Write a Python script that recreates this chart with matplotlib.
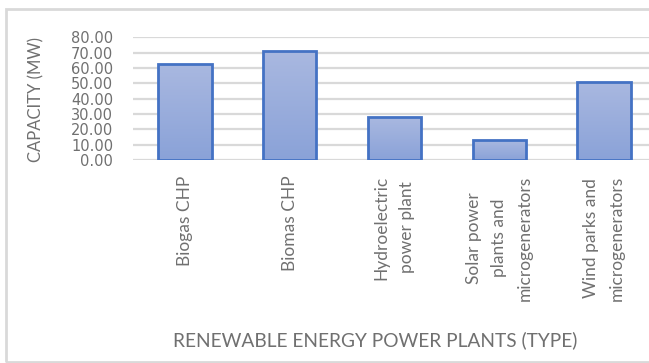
import matplotlib
matplotlib.use("Agg")
import matplotlib.pyplot as plt
import numpy as np
from matplotlib.patches import Rectangle
from matplotlib.colors import LinearSegmentedColormap

# Installed renewable capacity by plant type
categories = [
    "Biogas CHP",
    "Biomas CHP",
    "Hydroelectric\npower plant",
    "Solar power\nplants and\nmicrogenerators",
    "Wind parks and\nmicrogenerators",
]
capacity_mw = [62.3, 70.8, 27.8, 13.0, 50.6]
y_ticks = [0, 10, 20, 30, 40, 50, 60, 70, 80]

TEXT = "#707070"
GRID = "#D9D9D9"
EDGE = "#4472C4"
FONT = ["Lato", "DejaVu Sans"]

W, H = 649, 363
fig = plt.figure(figsize=(W / 100, H / 100), dpi=100)
fig.patch.set_facecolor("white")

# chart-area frame (runs off the right edge)
fig.patches.append(Rectangle((5.5 / W, 1 / H), 1.2, (H - 10) / H,
                             transform=fig.transFigure, fill=False,
                             edgecolor=GRID, linewidth=2, zorder=0))

ax = fig.add_axes([132.6 / W, (H - 160) / H, 523.8 / W, 122.8 / H])
ax.set_facecolor("none")
x = np.arange(len(categories))

for s in ax.spines.values():
    s.set_visible(False)
ax.set_yticks(y_ticks)
ax.yaxis.grid(True, color=GRID, linewidth=1.6)
ax.set_axisbelow(True)
ax.tick_params(axis="both", length=0)
ax.tick_params(axis="y", pad=14)
ax.tick_params(axis="x", pad=11)

ax.set_yticklabels([f"{v:.2f}" for v in y_ticks], color=TEXT,
                   fontsize=10.5, family=["DejaVu Sans"])
ax.set_xticks(x)
ax.set_xticklabels(categories, rotation=90, va="top", ha="center",
                   multialignment="center", linespacing=1.75,
                   color=TEXT, fontsize=12.5, family=FONT)

bars = ax.bar(x, capacity_mw, width=0.51, facecolor="none",
              edgecolor=EDGE, linewidth=2, zorder=3)

# vertical gradient fill clipped to each bar
cmap = LinearSegmentedColormap.from_list("barfill", ["#8AA2D8", "#A9B8E0"])
grad = np.linspace(0, 1, 256).reshape(-1, 1)
for b in bars:
    x0, y0 = b.get_x(), b.get_y()
    w, h = b.get_width(), b.get_height()
    im = ax.imshow(grad, cmap=cmap, origin="lower", aspect="auto",
                   extent=(x0, x0 + w, y0, y0 + h), zorder=2)
    im.set_clip_path(b)
ax.set_xlim(-0.5, len(categories) - 0.5)
ax.set_ylim(0, 80)

fig.text(36 / W, 1 - 100 / H, "CAPACITY (MW)", rotation=90, ha="center",
         va="center", color=TEXT, fontsize=12, family=FONT)
fig.text(375.5 / W, 1 - 340 / H, "RENEWABLE ENERGY POWER PLANTS (TYPE)",
         ha="center", va="center", color=TEXT, fontsize=13.8, family=FONT)

fig.savefig("out.png", dpi=100)
